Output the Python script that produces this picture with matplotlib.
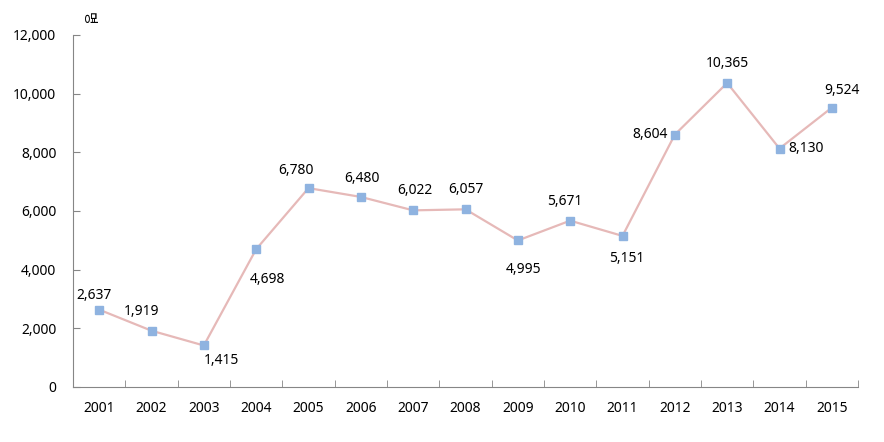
import matplotlib
matplotlib.use('Agg')
import matplotlib.pyplot as plt
import numpy as np

plt.rcParams['font.family'] = ['Noto Sans', 'Noto Sans CJK KR', 'DejaVu Sans']

# Data
years = ['2001', '2002', '2003', '2004', '2005', '2006', '2007', '2008',
         '2009', '2010', '2011', '2012', '2013', '2014', '2015']
values = [2637, 1919, 1415, 4698, 6780, 6480, 6022, 6057,
          4995, 5671, 5151, 8604, 10365, 8130, 9524]
unit_label = '명'

# Label offsets (points) for each data label
label_offsets = [(-4, 10), (-7, 14), (13, -11), (8, -22), (-9, 13), (1, 13), (1, 14),
                 (0, 14), (4, -21), (-4, 14), (3, -16), (-18, 0), (0, 14), (19, 0), (7, 12)]

fig = plt.figure(figsize=(8.84, 4.42), dpi=100)
ax = fig.add_axes([73 / 884, 1 - 387 / 442, 785 / 884, 352 / 442])

x = np.arange(len(years))
ax.plot(x, values, color='#e6b9b8', linewidth=1.6, zorder=2)
ax.plot(x, values, linestyle='none', marker='s', markersize=6,
        color='#8fb3e0', zorder=3)

for xi, v, (dx, dy) in zip(x, values, label_offsets):
    ax.annotate(f'{v:,}', (xi, v), xytext=(dx, dy), textcoords='offset points',
                ha='center', va='center', fontsize=10, color='#000000')

ax.set_xlim(-0.5, len(years) - 0.5)
ax.set_ylim(0, 12000)
ax.set_yticks(np.arange(0, 12001, 2000))
ax.set_yticklabels([f'{t:,}' for t in range(0, 12001, 2000)], fontsize=10)
ax.set_xticks(x)
ax.set_xticklabels(years, fontsize=10)
ax.set_xticks(np.arange(-0.5, len(years)), minor=True)

ax.tick_params(axis='x', which='major', length=0, pad=10)
ax.tick_params(axis='x', which='minor', length=5, direction='in', color='#868686')
ax.tick_params(axis='y', length=5, direction='in', color='#868686', pad=12)

for side in ['top', 'right']:
    ax.spines[side].set_visible(False)
for side in ['left', 'bottom']:
    ax.spines[side].set_color('#868686')

fig.text(88 / 884, 1 - 18 / 442, unit_label, rotation=-90, ha='center', va='center',
         fontsize=10, family=['Noto Sans CJK KR', 'DejaVu Sans'])

fig.savefig('out.png', dpi=100)
